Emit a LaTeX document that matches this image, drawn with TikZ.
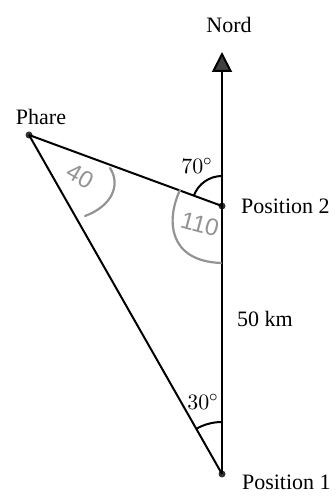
\documentclass[tikz,border=0pt]{standalone}
\usepackage{fontspec}
\setmainfont{Liberation Serif}
\setsansfont{Liberation Sans}
\usepackage{tikz}
\usetikzlibrary{arrows.meta}

\tikzset{
    bearing/.style={line width=1pt, black},
    pin/.style={circle, fill=black!80, inner sep=0pt, minimum size=3.5pt},
    handnote/.style={gray!85, line width=1.1pt, line cap=round},
    handtext/.style={gray!85, inner sep=0pt, font=\sffamily\fontsize{12}{12}\selectfont}
}

\begin{document}
\begin{tikzpicture}[x=0.5pt, y=0.5pt, >=Latex, font=\fontsize{11}{13}\selectfont]
    \useasboundingbox (0,0) rectangle (336,497);

    \node[pin] (p1) at (222,23) {};
    \node[pin] (p2) at (222,291) {};
    \node[pin] (ph) at (29,362) {};
    \coordinate (nord) at (222,445);

    \draw[bearing, -{Triangle[width=10pt, length=10pt, fill=black!75]}] (p1.center) -- (nord);
    \draw[bearing] (ph.center) -- (p2.center);
    \draw[bearing] (ph.center) -- (p1.center);

    \node at (229,472) {Nord};
    \node at (41,380) {Phare};
    \node[anchor=west] at (234,291) {Position 2};
    \node[anchor=west] at (235,15) {Position 1};
    \node at (265,178) {50 km};

    \draw[bearing] ([shift={(90:52)}]p1.center) arc (90:120:52);
    \node at (203,95) {$30^\circ$};
    \draw[bearing] ([shift={(90:30)}]p2.center) arc (90:160:30);
    \node[inner sep=1pt] at (197,331) {$70^\circ$};

    \draw[handnote] (180,307) .. controls (166,277) and (168,236) .. (221,234);
    \node[handtext, rotate=-15] at (200,273) {110};
    \draw[handnote] (110,329) .. controls (121,312) and (112,291) .. (85,281);
    \node[handtext, rotate=-30] at (80,321) {40};
\end{tikzpicture}
\end{document}
